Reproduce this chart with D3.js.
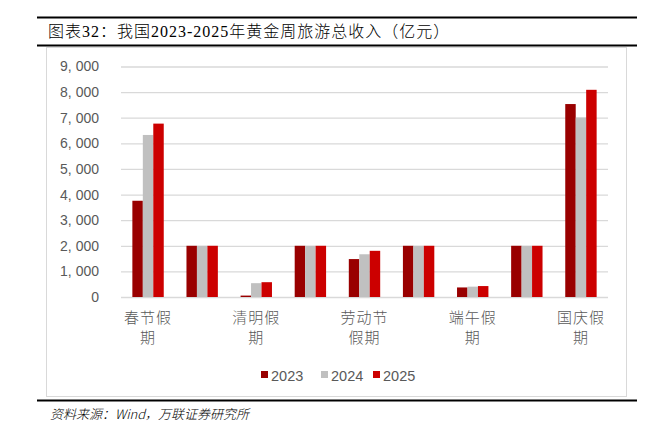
<!DOCTYPE html>
<html>
<head>
<meta charset="utf-8">
<script src="https://cdn.jsdelivr.net/npm/d3@7"></script>
<style>
html,body{margin:0;padding:0;background:#fff;}
svg{display:block;}
</style>
</head>
<body>
<svg id="chart" width="650" height="435"></svg>
<script>
// ---- data ----
const categories = ["春节假期", "", "清明假期", "", "劳动节假期", "", "端午假期", "", "国庆假期"];
const seriesNames = ["2023", "2024", "2025"];
const values2023 = [3758, 2000, 55, 2000, 1481, 2000, 373, 2000, 7534];
const values2024 = [6327, 2000, 540, 2000, 1669, 2000, 404, 2000, 7008];
const values2025 = [6770, 2000, 578, 2000, 1803, 2000, 427, 2000, 8090];
const yTicks = [0, 1000, 2000, 3000, 4000, 5000, 6000, 7000, 8000, 9000];
const titleText = "图表32：我国2023-2025年黄金周旅游总收入（亿元）";
const sourceText = "资料来源：Wind，万联证券研究所";
const colors = ["#990000", "#C0C0C0", "#CC0000"];

const series = [values2023, values2024, values2025];
const svg = d3.select("#chart");

// frame lines
const lineX0 = 37, lineX1 = 637;
[17.5, 45.5, 400.5].forEach(y => {
  svg.append("line").attr("x1", lineX0).attr("x2", lineX1).attr("y1", y).attr("y2", y)
    .attr("stroke", "#000").attr("stroke-width", 2);
});

// title
svg.append("text").attr("x", 48).attr("y", 37)
  .attr("font-family", "'Liberation Serif','Noto Sans CJK SC',serif")
  .attr("font-size", 16).attr("font-weight", 300).attr("letter-spacing", 1)
  .attr("fill", "#000").text(titleText);

// chart box
svg.append("rect").attr("x", 46.5).attr("y", 47.5).attr("width", 580).attr("height", 349)
  .attr("fill", "#fff").attr("stroke", "#D9D9D9").attr("stroke-width", 1);

// scales
const x = d3.scaleBand().domain(d3.range(categories.length)).range([121, 608])
  .paddingInner(0.42).paddingOuter(0.21);
const y = d3.scaleLinear().domain([0, 9000]).range([297, 66.5]);
const xs = d3.scaleBand().domain(d3.range(seriesNames.length)).range([0, x.bandwidth()]);

// gridlines
const yAxis = d3.axisLeft(y).tickValues(yTicks).tickSize(-(608 - 121))
  .tickFormat(d => d3.format(",")(d).replace(",", ", "));
const gy = svg.append("g").attr("transform", "translate(121,0)").call(yAxis);
gy.select(".domain").remove();
gy.selectAll(".tick line").attr("stroke", "#D9D9D9").attr("stroke-width", 1.3);
gy.selectAll(".tick text").attr("x", -22).attr("fill", "#595959")
  .attr("font-family", "'Liberation Sans','Noto Sans CJK SC',sans-serif").attr("font-size", 14);

// bars
const groups = svg.append("g").selectAll("g").data(categories).join("g")
  .attr("transform", (d, i) => `translate(${x(i)},0)`);
groups.selectAll("rect").data((d, i) => series.map((s, k) => ({k, v: s[i]}))).join("rect")
  .attr("x", d => xs(d.k)).attr("width", xs.bandwidth())
  .attr("y", d => y(d.v)).attr("height", d => y(0) - y(d.v))
  .attr("fill", d => colors[d.k]);

// category labels (wrap 3 chars per line)
const xl = svg.append("g");
categories.forEach((c, i) => {
  if (!c) return;
  const lines = [];
  for (let p = 0; p < c.length; p += 3) lines.push(c.slice(p, p + 3));
  lines.forEach((ln, j) => {
    xl.append("text").attr("x", x(i) + x.bandwidth() / 2).attr("y", 323 + j * 20)
      .attr("text-anchor", "middle").attr("fill", "#595959")
      .attr("font-family", "'Noto Sans CJK SC',sans-serif").attr("font-weight", 300)
      .attr("letter-spacing", 1).attr("font-size", 15).text(ln);
  });
});

// legend
const legendX = [261, 321, 373];
seriesNames.forEach((n, k) => {
  svg.append("rect").attr("x", legendX[k]).attr("y", 371).attr("width", 7).attr("height", 7)
    .attr("fill", colors[k]);
  svg.append("text").attr("x", legendX[k] + 10).attr("y", 380.5)
    .attr("font-family", "'Liberation Sans',Arial,sans-serif").attr("font-size", 14.5)
    .attr("fill", "#595959").text(n);
});

// source
svg.append("text").attr("x", 50).attr("y", 419)
  .attr("font-family", "'Noto Sans CJK SC',sans-serif").attr("font-style", "italic")
  .attr("font-weight", 300).attr("font-size", 13).attr("fill", "#000").text(sourceText);
</script>
</body>
</html>
